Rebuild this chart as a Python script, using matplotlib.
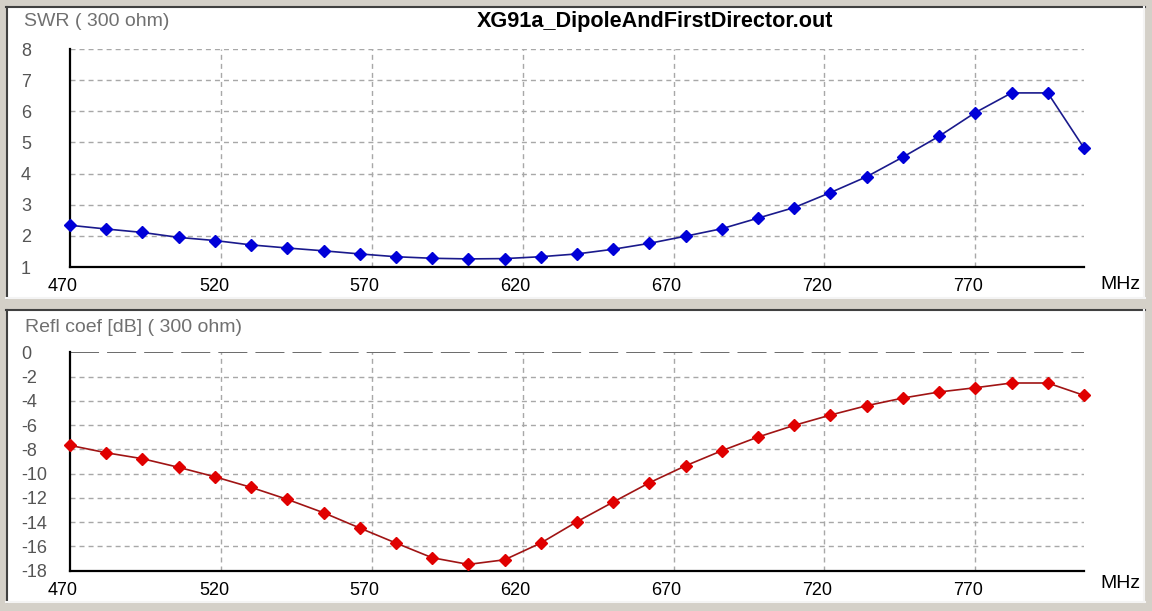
import matplotlib
matplotlib.use("Agg")
import matplotlib.pyplot as plt
import matplotlib.transforms as mtransforms
from matplotlib.patches import Rectangle
from matplotlib.lines import Line2D

# frequency points (MHz)
freq = [470, 482, 494, 506, 518, 530, 542, 554, 566, 578, 590, 602, 614, 626, 638,
        650, 662, 674, 686, 698, 710, 722, 734, 746, 758, 770, 782, 794, 806]
swr = [2.34, 2.22, 2.11, 1.95, 1.85, 1.71, 1.61, 1.52, 1.42, 1.33, 1.28, 1.26, 1.27, 1.33, 1.42,
       1.57, 1.76, 1.99, 2.23, 2.57, 2.91, 3.39, 3.90, 4.53, 5.20, 5.96, 6.59, 6.59, 4.82]
refl_db = [-7.67, -8.28, -8.77, -9.48, -10.26, -11.13, -12.12, -13.22, -14.48, -15.72, -16.93,
           -17.48, -17.10, -15.72, -13.96, -12.34, -10.75, -9.35, -8.11, -6.98, -6.02, -5.17,
           -4.40, -3.77, -3.27, -2.92, -2.53, -2.53, -3.55]

xticks = [470, 520, 570, 620, 670, 720, 770]
swr_ticks = [1, 2, 3, 4, 5, 6, 7, 8]
db_ticks = [0, -2, -4, -6, -8, -10, -12, -14, -16, -18]

title = "XG91a_DipoleAndFirstDirector.out"

plt.rcParams['font.family'] = ['Liberation Sans', 'DejaVu Sans']
plt.rcParams['lines.scale_dashes'] = False

W, H = 1152, 611
fig = plt.figure(figsize=(W / 100, H / 100), dpi=100, facecolor='#d4d0c8')


def px_rect(x0, y0, x1, y1):
    # pixel box (top-left origin) -> figure fraction rect
    return [x0 / W, 1 - y1 / H, (x1 - x0) / W, (y1 - y0) / H]


def panel(y0, y1):
    r = px_rect(8, y0, 1143, y1)
    fig.patches.append(Rectangle((r[0], r[1]), r[2], r[3], transform=fig.transFigure,
                                 facecolor='white', edgecolor='none', zorder=-5))
    # sunken border
    kw = dict(transform=fig.transFigure, lw=1.5, zorder=-4)
    fig.lines.append(Line2D([6 / W, 1145 / W], [1 - (y0 - 1) / H] * 2, color='#404040', **kw))
    fig.lines.append(Line2D([7 / W] * 2, [1 - (y0 - 1) / H, 1 - (y1 + 1) / H], color='#404040', **kw))
    fig.lines.append(Line2D([6 / W, 1145 / W], [1 - (y1 + 1) / H] * 2, color='#f4f4f4', **kw))
    fig.lines.append(Line2D([1144 / W] * 2, [1 - (y0 - 1) / H, 1 - (y1 + 1) / H], color='#f4f4f4', **kw))


panel(8, 297)
panel(311, 601)

ax1 = fig.add_axes(px_rect(70, 49, 1084, 267))
ax2 = fig.add_axes(px_rect(70, 352.3, 1084, 570.7))

grid_kw = dict(color='#a8a8a8', lw=1, dashes=(3.6, 2.9))

for ax, yt in ((ax1, swr_ticks), (ax2, db_ticks)):
    ax.set_facecolor('none')
    ax.set_xlim(470, 806)
    ax.set_xticks(xticks)
    ax.set_yticks(yt)
    ax.set_yticklabels([str(v) for v in yt])
    for s in ('top', 'right'):
        ax.spines[s].set_visible(False)
    for s in ('left', 'bottom'):
        ax.spines[s].set_color('black')
        ax.spines[s].set_linewidth(1.6)
        ax.spines[s].set_zorder(3)
    ax.tick_params(length=0, labelsize=13)
    ax.tick_params(axis='x', pad=8, labelcolor='black')
    ax.tick_params(axis='y', pad=35.3, labelcolor='#555555')
    for lbl in ax.get_yticklabels():
        lbl.set_horizontalalignment('left')
    offset = mtransforms.ScaledTranslation(-7 / 100, 0, fig.dpi_scale_trans)
    for lbl in ax.get_xticklabels():
        lbl.set_transform(lbl.get_transform() + offset)
    for xv in xticks[1:]:
        ax.axvline(xv, zorder=1, **grid_kw)

ax1.set_ylim(1, 8)
for yv in swr_ticks[1:]:
    ax1.axhline(yv, zorder=1, **grid_kw)

ax2.set_ylim(-18, 0)
for yv in db_ticks[1:-1]:
    ax2.axhline(yv, zorder=1, **grid_kw)
ax2.axhline(0, color='#6a6a6a', lw=1.4, dashes=(20.9, 5.8), zorder=1)

ax1.plot(freq, swr, color='#1a1a8c', lw=1.2, marker='D', markersize=6,
         markerfacecolor='#0000d8', markeredgecolor='#0000d8', clip_on=False, zorder=4)
ax2.plot(freq, refl_db, color='#a01414', lw=1.2, marker='D', markersize=6,
         markerfacecolor='#e00000', markeredgecolor='#e00000', clip_on=False, zorder=4)

fig.text(24 / W, 1 - 22 / H, "SWR ( 300 ohm)", fontsize=14, color='#707070', va='center', ha='left')
fig.text(25 / W, 1 - 327 / H, "Refl coef [dB] ( 300 ohm)", fontsize=14, color='#707070', va='center', ha='left')
fig.text(655 / W, 1 - 22 / H, title, fontsize=15.6, fontweight='bold', color='black', va='center', ha='center')
fig.text(1100 / W, 1 - 284 / H, "MHz", fontsize=14, color='black', va='center', ha='left')
fig.text(1100 / W, 1 - 584 / H, "MHz", fontsize=14, color='black', va='center', ha='left')

fig.savefig("out.png", dpi=100, facecolor=fig.get_facecolor())
